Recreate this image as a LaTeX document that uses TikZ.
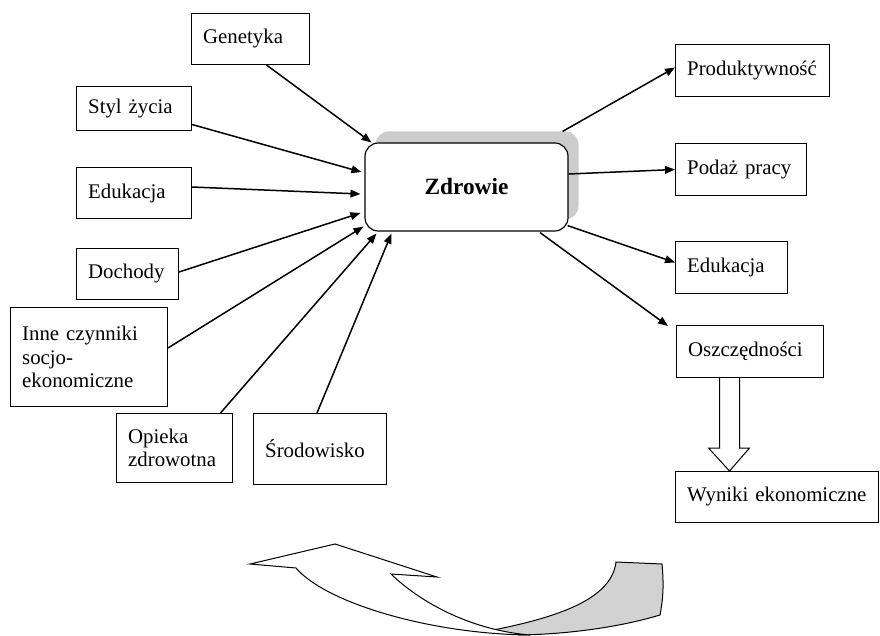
\documentclass[tikz,border=0pt]{standalone}
\usepackage{fontspec}
\setmainfont{Liberation Serif}
\usetikzlibrary{arrows.meta,calc,shadows}

\begin{document}
\begin{tikzpicture}[x=0.6pt, y=-0.6pt, >={Triangle[length=6pt,width=4.6pt]},
    box/.style={draw, line width=0.6pt, inner xsep=7pt, inner ysep=2pt, align=left, anchor=north west, font=\fontsize{12.5}{14}\selectfont},
    link/.style={->, line width=0.9pt}]
    \useasboundingbox (0,0) rectangle (880,635);

                    \node[box, text width=56.8pt, minimum height=30.6pt] (gen) at (191,13) {Genetyka};
                    \node[box, text width=55pt, minimum height=26.4pt] (sty) at (76,86) {Styl życia};
                    \node[box, text width=55pt, minimum height=30.6pt] (edl) at (76,167) {Edukacja};
                    \node[box, text width=47.2pt, minimum height=30.6pt] (doc) at (76,248) {Dochody};
                    \node[box, text width=80.2pt, minimum height=59.4pt] (inn) at (10,307) {Inne czynniki\\socjo-\\ekonomiczne};
                    \node[box, text width=55.6pt, minimum height=41.4pt] (opi) at (116,413) {Opieka\\zdrowotna};
                    \node[box, text width=65.8pt, minimum height=42.6pt] (sro) at (253,413) {Środowisko};

                    \node[draw, fill=white, line width=0.7pt, rounded corners=8pt, minimum width=121.8pt, minimum height=52.8pt,
                          font=\fontsize{14}{16}\selectfont\bfseries,
                          drop shadow={shadow xshift=6.3pt, shadow yshift=7pt, fill=gray!40, opacity=1}] (zdr) at (466.5,187) {Zdrowie};

                    \node[box, text width=78.4pt, minimum height=31.2pt] (pro) at (675,44) {Produktywność};
                    \node[box, text width=64.6pt, minimum height=31.2pt] (pod) at (675,143) {Podaż pracy};
                    \node[box, text width=53.2pt, minimum height=31.2pt] (edr) at (675,241) {Edukacja};
                    \node[box, text width=74.2pt, minimum height=31.2pt] (osz) at (676,325) {Oszczędności};
                    \node[box, text width=107.8pt, minimum height=30.6pt] (wyn) at (675,471) {Wyniki ekonomiczne};

                    \draw[link] ($(gen.south)+(16,0)$) -- ($(zdr.north west)+(7,0)$);
                    \draw[link] ($(sty.east)+(0,16)$) -- ($(zdr.west)+(-3,-15)$);
                    \draw[link] ($(edl.east)+(0,-6)$) -- ($(zdr.west)+(-4,7)$);
                    \draw[link] ($(doc.east)+(0,-2)$) -- ($(zdr.west)+(-4,26)$);
                    \draw[link] ($(inn.east)+(0,-9)$) -- ($(zdr.south west)+(-1,-5)$);
                    \draw[link] ($(opi.north)+(46,0)$) -- ($(zdr.south west)+(12,2)$);
                    \draw[link] ($(sro.north)+(-3,0)$) -- ($(zdr.south west)+(27,2)$);

                    \draw[link] ($(zdr.north east)+(-6,-11)$) -- ($(pro.west)+(0,-3)$);
                    \draw[link] ($(zdr.east)+(0,-13)$) -- (pod.west);
                    \draw[link] ($(zdr.south east)+(-1,-6)$) -- ($(edr.west)+(0,-5)$);
                    \draw[link] ($(zdr.south)+(73.5,1)$) -- ($(osz.north west)+(-8,1)$);

                    \draw[line width=0.6pt, fill=white] ($(osz.south)+(-30.5,0)$) -- ++(0,70) -- ++(-11,0) -- ++(21,23) -- ++(20,-23) -- ++(-10,0) -- ++(0,-70);

                    \filldraw[line width=0.6pt, fill=gray!35] (493,630) .. controls (570,615) and (612,595) .. (616,562) -- (662,564)
                        .. controls (664,585) and (663,600) .. (660,615) .. controls (620,627) and (570,634) .. (520,635) -- cycle;
                    \filldraw[line width=0.6pt, fill=white] (296,568) -- (250,564) -- (335,544) -- (437,577) -- (391,574)
                        .. controls (420,602) and (470,630) .. (530,635) .. controls (430,634) and (326,603) .. (296,568) -- cycle;
                \end{tikzpicture}
\end{document}
